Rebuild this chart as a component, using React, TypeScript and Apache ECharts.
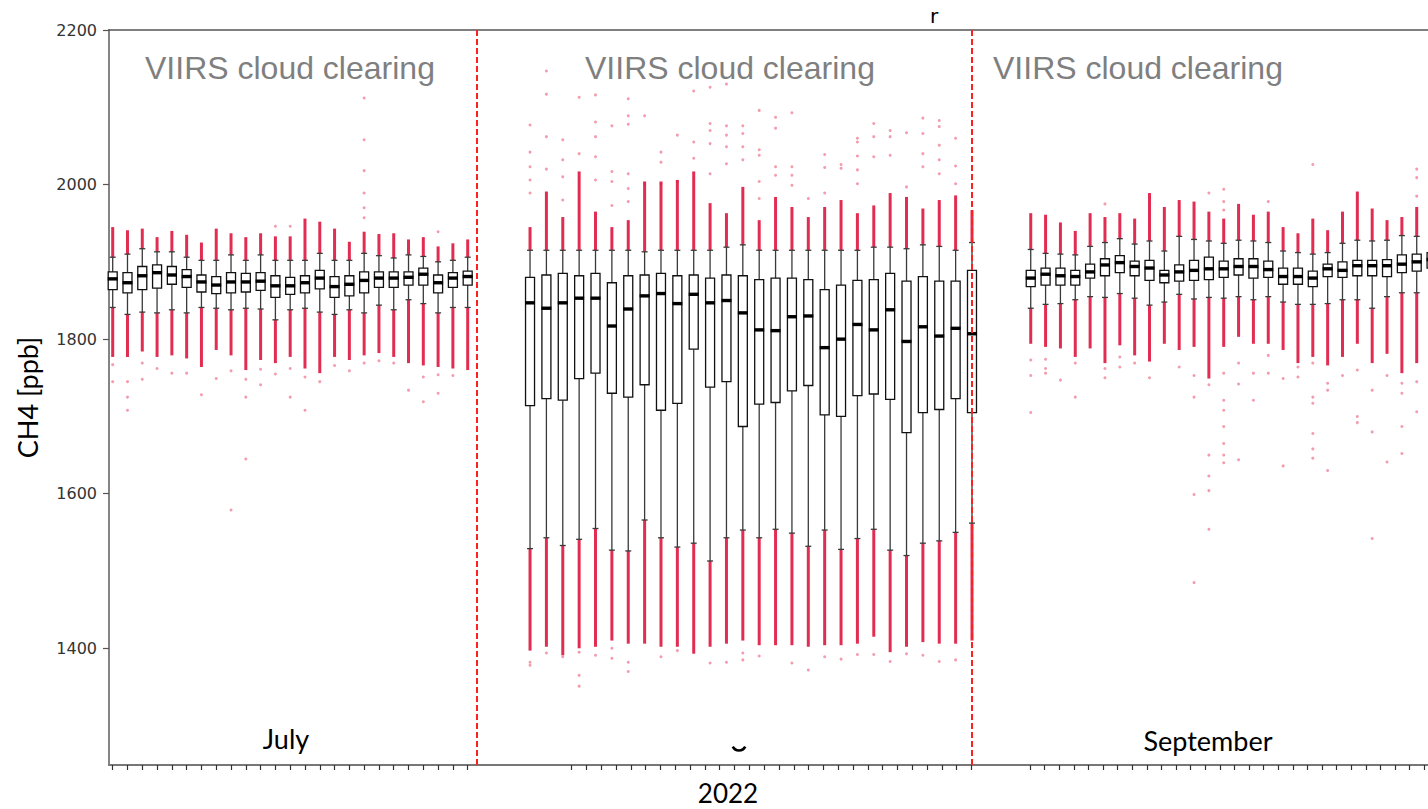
import React, { useEffect, useRef } from "react";
import * as echarts from "echarts";

// ---------- data ----------
const Y_TICKS = [1400, 1600, 1800, 2000, 2200];
const Y_MIN = 1249;
const Y_MAX = 2200;

// one row per day: [redLo, whiskerLo, q1, median, q3, whiskerHi, redHi] (ppb)
const JULY_STATS = [
  [1777, 1841, 1864, 1878, 1887, 1906, 1945],
  [1777, 1832, 1860, 1873, 1886, 1910, 1941],
  [1784, 1835, 1864, 1882, 1894, 1917, 1943],
  [1777, 1834, 1866, 1886, 1896, 1913, 1932],
  [1779, 1838, 1871, 1883, 1894, 1913, 1940],
  [1775, 1834, 1867, 1881, 1890, 1906, 1935],
  [1764, 1841, 1861, 1874, 1883, 1902, 1925],
  [1786, 1840, 1859, 1870, 1881, 1902, 1943],
  [1779, 1838, 1860, 1874, 1886, 1909, 1937],
  [1760, 1840, 1861, 1874, 1885, 1902, 1932],
  [1773, 1839, 1863, 1875, 1886, 1909, 1937],
  [1769, 1825, 1854, 1869, 1882, 1902, 1933],
  [1777, 1838, 1858, 1869, 1880, 1902, 1933],
  [1762, 1840, 1860, 1873, 1882, 1902, 1956],
  [1756, 1835, 1865, 1879, 1889, 1911, 1952],
  [1777, 1832, 1854, 1868, 1881, 1902, 1943],
  [1773, 1838, 1856, 1871, 1882, 1902, 1926],
  [1779, 1834, 1860, 1876, 1887, 1911, 1939],
  [1782, 1844, 1867, 1879, 1887, 1908, 1936],
  [1777, 1838, 1867, 1879, 1887, 1905, 1937],
  [1769, 1851, 1870, 1880, 1887, 1909, 1929],
  [1766, 1846, 1870, 1884, 1892, 1907, 1932],
  [1764, 1834, 1860, 1873, 1883, 1900, 1920],
  [1762, 1841, 1867, 1879, 1886, 1902, 1924],
  [1760, 1841, 1870, 1881, 1888, 1906, 1929],
];

const AUGUST_STATS = [
  [1397, 1529, 1714, 1847, 1880, 1915, 1945],
  [1402, 1543, 1723, 1840, 1883, 1915, 1991],
  [1391, 1533, 1721, 1847, 1885, 1915, 1958],
  [1400, 1541, 1749, 1853, 1882, 1915, 2017],
  [1402, 1555, 1756, 1853, 1885, 1915, 1965],
  [1410, 1527, 1730, 1817, 1873, 1915, 1945],
  [1406, 1526, 1725, 1839, 1882, 1915, 1954],
  [1406, 1566, 1741, 1856, 1883, 1913, 2004],
  [1402, 1543, 1708, 1859, 1885, 1915, 2004],
  [1402, 1531, 1717, 1846, 1882, 1915, 2006],
  [1393, 1536, 1787, 1858, 1883, 1915, 2017],
  [1402, 1513, 1738, 1847, 1879, 1915, 1976],
  [1406, 1543, 1745, 1850, 1883, 1919, 1963],
  [1410, 1553, 1687, 1834, 1882, 1922, 1997],
  [1404, 1543, 1716, 1812, 1877, 1915, 1954],
  [1404, 1554, 1718, 1811, 1879, 1915, 1984],
  [1404, 1549, 1733, 1829, 1879, 1915, 1971],
  [1402, 1532, 1740, 1830, 1877, 1915, 1958],
  [1404, 1553, 1702, 1789, 1864, 1915, 1971],
  [1404, 1528, 1700, 1800, 1870, 1915, 1980],
  [1406, 1542, 1727, 1819, 1876, 1915, 1963],
  [1415, 1554, 1729, 1812, 1877, 1919, 1973],
  [1395, 1527, 1722, 1838, 1885, 1919, 1989],
  [1402, 1520, 1679, 1797, 1875, 1917, 1984],
  [1408, 1536, 1705, 1816, 1881, 1922, 1969],
  [1406, 1539, 1709, 1804, 1875, 1920, 1980],
  [1406, 1550, 1723, 1814, 1875, 1915, 1986],
  [1410, 1562, 1705, 1807, 1889, 1925, 1967],
];

const SEPTEMBER_STATS = [
  [1794, 1840, 1868, 1879, 1889, 1916, 1963],
  [1790, 1845, 1870, 1884, 1892, 1911, 1961],
  [1788, 1846, 1870, 1882, 1892, 1910, 1951],
  [1777, 1851, 1870, 1881, 1889, 1909, 1940],
  [1788, 1855, 1879, 1887, 1897, 1920, 1963],
  [1769, 1854, 1882, 1896, 1904, 1925, 1958],
  [1792, 1859, 1886, 1899, 1908, 1930, 1963],
  [1779, 1853, 1882, 1894, 1901, 1923, 1956],
  [1771, 1844, 1876, 1892, 1902, 1927, 1989],
  [1794, 1848, 1873, 1883, 1889, 1914, 1971],
  [1786, 1858, 1875, 1887, 1896, 1933, 1980],
  [1790, 1852, 1876, 1889, 1902, 1929, 1978],
  [1749, 1854, 1877, 1891, 1906, 1927, 1965],
  [1790, 1853, 1880, 1891, 1901, 1924, 1956],
  [1803, 1855, 1883, 1894, 1904, 1928, 1975],
  [1794, 1851, 1879, 1894, 1904, 1927, 1961],
  [1794, 1855, 1880, 1890, 1901, 1925, 1965],
  [1786, 1848, 1871, 1881, 1892, 1914, 1945],
  [1769, 1845, 1871, 1881, 1892, 1912, 1937],
  [1777, 1845, 1868, 1879, 1888, 1910, 1956],
  [1766, 1846, 1881, 1891, 1897, 1912, 1941],
  [1777, 1851, 1880, 1889, 1900, 1924, 1965],
  [1794, 1851, 1882, 1895, 1902, 1928, 1991],
  [1769, 1840, 1882, 1895, 1902, 1927, 1969],
  [1781, 1855, 1881, 1895, 1903, 1928, 1954],
  [1756, 1860, 1886, 1897, 1909, 1934, 1958],
  [1769, 1860, 1888, 1900, 1910, 1933, 1971],
  [1770, 1862, 1892, 1903, 1912, 1937, 1980],
];

// isolated outliers: [day number within the panel, ppb]
const JULY_OUTLIERS = [
  [1, 1767], [1, 1745], [2, 1745], [2, 1725], [2, 1708], [3, 1769], [3, 1748],
  [4, 1762], [5, 1756], [6, 1756], [7, 1728], [8, 1749], [9, 1759], [9, 1579],
  [10, 1748], [10, 1725], [10, 1645], [11, 1761], [11, 1741], [12, 1755], [12, 1946],
  [13, 1762], [13, 1725], [13, 1946], [14, 1751], [14, 1708], [15, 1745], [16, 1766],
  [17, 1759], [18, 1769], [18, 2112], [18, 2058], [18, 2018], [18, 1989], [18, 1970],
  [18, 1957], [19, 1772], [20, 1769], [21, 1734], [22, 1751], [22, 1719], [23, 1754],
  [23, 1730], [23, 1939], [24, 1753],
];

const AUGUST_OUTLIERS = [
  [1, 2077], [1, 2042], [1, 2023], [1, 2006], [1, 1989], [1, 1382], [1, 1378],
  [2, 2147], [2, 2117], [2, 2062], [2, 2020], [2, 1394],
  [3, 2058], [3, 2032], [3, 2010], [3, 1980], [3, 1389],
  [4, 2113], [4, 2040], [4, 1395], [4, 1365], [4, 1351],
  [5, 2116], [5, 2081], [5, 2062], [5, 2036], [5, 2006], [5, 1391],
  [6, 2076], [6, 2017], [6, 2004], [6, 1973], [6, 1400], [6, 1387],
  [7, 2111], [7, 2089], [7, 2078], [7, 2014], [7, 1995], [7, 1978], [7, 1382], [7, 1370],
  [8, 2089], [8, 2001],
  [9, 2042], [9, 2029], [9, 2001], [9, 1389],
  [10, 2064], [10, 2004], [10, 1397],
  [11, 2121], [11, 2055], [11, 2034],
  [12, 2126], [12, 2079], [12, 2070], [12, 2053], [12, 2014], [12, 1381],
  [13, 2130], [13, 2076], [13, 2064], [13, 2049], [13, 2027], [13, 1382],
  [14, 2076], [14, 2066], [14, 2049], [14, 2032], [14, 1394], [14, 1385],
  [15, 2096], [15, 2045], [15, 2038], [15, 2004], [15, 1982], [15, 1390],
  [16, 2087], [16, 2073], [16, 2023], [16, 2012],
  [17, 2093], [17, 2023], [17, 2012], [17, 1999], [17, 1381],
  [18, 1982], [18, 1372],
  [19, 2039], [19, 2022], [19, 1989], [19, 1389],
  [20, 2026], [20, 2021], [20, 1386],
  [21, 2060], [21, 2055], [21, 2037], [21, 2019], [21, 2001], [21, 1392],
  [22, 2079], [22, 2062], [22, 2036], [22, 1392],
  [23, 2070], [23, 2062], [23, 2038], [23, 1383],
  [24, 2067], [24, 1997], [24, 1393],
  [25, 2086], [25, 2066], [25, 2040], [25, 2023], [25, 1391],
  [26, 2083], [26, 2075], [26, 2051], [26, 2032], [26, 2014], [26, 1383],
  [27, 2060], [27, 2024], [27, 2001], [27, 1385],
];

const SEPTEMBER_OUTLIERS = [
  [1, 1773], [1, 1753], [1, 1705], [2, 1774], [2, 1762], [2, 1756], [3, 1747],
  [4, 1769], [4, 1725], [6, 1975], [6, 1762], [6, 1750], [7, 1777], [7, 1764],
  [8, 1769], [9, 1750], [11, 1764], [12, 1753], [12, 1725], [12, 1599], [12, 1485],
  [13, 1989], [13, 1741], [13, 1650], [13, 1623], [13, 1604], [13, 1554],
  [14, 1994], [14, 1978], [14, 1967], [14, 1756], [14, 1721], [14, 1708], [14, 1687],
  [14, 1665], [14, 1650], [14, 1640], [15, 1769], [15, 1742], [15, 1644],
  [16, 1756], [16, 1721], [17, 1978], [17, 1779], [17, 1756], [18, 1749], [18, 1636],
  [19, 1764], [19, 1751], [20, 2026], [20, 1769], [20, 1725], [20, 1717], [20, 1678],
  [20, 1658], [20, 1646], [21, 1743], [21, 1734], [21, 1630], [22, 1753],
  [23, 1760], [23, 1700], [23, 1692], [24, 1734], [24, 1680], [24, 1542],
  [25, 1753], [25, 1641], [26, 1743], [26, 1730], [26, 1687], [26, 1652],
  [27, 2020], [27, 2009], [27, 1985], [27, 1745], [27, 1706],
];

const MONTH_LABELS = ["July", "September"];
const YEAR_LABEL = "2022";
const PANEL_NOTE = "VIIRS cloud clearing";
const Y_NAME = "CH4 [ppb]";

// ---------- layout (pixels / axis extents) ----------
const TOP = 30;
const PLOT_H = 735;
const JUL_BOX_AXIS = { min: 0.75, max: 25.63 };
const AUG_BOX_AXIS = { min: -2.24, max: 27.97 };
const AUG_TICK_AXIS = { min: -6.39, max: 27.0 };
const SEP_BOX_AXIS = { min: -2.99, max: 27.76 };
const SEP_TICK_AXIS = { min: -4.01, max: 27.26 };

const RED = "rgba(222,16,58,0.88)";
const RED_DOT = "rgba(228,30,70,0.55)";

const range = (a: number, b: number) => {
  const r: number[] = [];
  for (let i = a; i <= b; i++) r.push(i);
  return r;
};

function hiddenY(gridIndex: number) {
  return { type: "value", gridIndex, min: Y_MIN, max: Y_MAX, show: false, splitLine: { show: false } };
}

function tickX(gridIndex: number, ext: { min: number; max: number }, ticks: number[] | null) {
  return {
    type: "value",
    gridIndex,
    min: ext.min,
    max: ext.max,
    position: "bottom",
    axisLine: { show: false },
    splitLine: { show: false },
    axisLabel: { show: false },
    axisTick: ticks
      ? { show: true, length: 5, inside: false, lineStyle: { color: "#333", width: 1.2 }, customValues: ticks }
      : { show: false },
  };
}

function redSeries(stats: number[][], xi: number, yi: number) {
  return {
    type: "custom",
    name: "dense outliers",
    xAxisIndex: xi,
    yAxisIndex: yi,
    silent: true,
    z: 2,
    encode: { x: 0, y: [1, 2, 3, 4] },
    data: stats.map((s, i) => [i + 1, s[0], s[1], s[5], s[6]]),
    renderItem: (params: any, api: any) => {
      const x = api.value(0);
      const lo = api.coord([x, api.value(1)]);
      const wlo = api.coord([x, api.value(2)]);
      const whi = api.coord([x, api.value(3)]);
      const hi = api.coord([x, api.value(4)]);
      return {
        type: "group",
        children: [
          { type: "rect", shape: { x: lo[0] - 1.5, y: wlo[1], width: 3, height: lo[1] - wlo[1] }, style: { fill: RED } },
          { type: "rect", shape: { x: hi[0] - 1.5, y: hi[1], width: 3, height: whi[1] - hi[1] }, style: { fill: RED } },
        ],
      };
    },
  };
}

function outlierSeries(points: number[][], xi: number, yi: number) {
  return {
    type: "scatter",
    name: "outliers",
    xAxisIndex: xi,
    yAxisIndex: yi,
    silent: true,
    z: 2,
    symbol: "circle",
    symbolSize: 3,
    itemStyle: { color: RED_DOT },
    data: points,
  };
}

function boxSeries(stats: number[][], xi: number, yi: number) {
  return {
    type: "custom",
    name: "daily CH4",
    xAxisIndex: xi,
    yAxisIndex: yi,
    silent: true,
    z: 3,
    encode: { x: 0, y: [1, 2, 3, 4, 5] },
    data: stats.map((s, i) => [i + 1, s[1], s[2], s[3], s[4], s[5]]),
    renderItem: (params: any, api: any) => {
      const x = api.value(0);
      const pWlo = api.coord([x, api.value(1)]);
      const pQ1 = api.coord([x, api.value(2)]);
      const pMed = api.coord([x, api.value(3)]);
      const pQ3 = api.coord([x, api.value(4)]);
      const pWhi = api.coord([x, api.value(5)]);
      const cx = pMed[0];
      const hw = 4.5;
      const wStyle = { stroke: "#3a3a3a", lineWidth: 1.3 };
      return {
        type: "group",
        children: [
          { type: "line", shape: { x1: cx, y1: pWhi[1], x2: cx, y2: pQ3[1] }, style: wStyle },
          { type: "line", shape: { x1: cx, y1: pQ1[1], x2: cx, y2: pWlo[1] }, style: wStyle },
          { type: "line", shape: { x1: cx - 3, y1: pWhi[1], x2: cx + 3, y2: pWhi[1] }, style: wStyle },
          { type: "line", shape: { x1: cx - 3, y1: pWlo[1], x2: cx + 3, y2: pWlo[1] }, style: wStyle },
          {
            type: "rect",
            shape: { x: cx - hw, y: pQ3[1], width: 2 * hw, height: pQ1[1] - pQ3[1] },
            style: { fill: "#fff", stroke: "#111", lineWidth: 1.3 },
          },
          { type: "line", shape: { x1: cx - hw - 0.5, y1: pMed[1], x2: cx + hw + 0.5, y2: pMed[1] }, style: { stroke: "#000", lineWidth: 3.4 } },
        ],
      };
    },
  };
}

export default function App() {
  const ref = useRef<HTMLDivElement>(null);

  useEffect(() => {
    if (!ref.current) return;
    const chart = echarts.init(ref.current, null, { renderer: "svg" });

    const noteStyle = { fill: "#7f7f7f", fontSize: 32, fontFamily: "Liberation Sans, Arial, sans-serif" };
    const labelFont = "Lato, 'Open Sans', sans-serif";

    const option: any = {
      animation: false,
      backgroundColor: "#fff",
      grid: [
        { left: 109, top: TOP, width: 368, height: PLOT_H },
        { left: 477, top: TOP, width: 494.5, height: PLOT_H },
        { left: 971.5, top: TOP, width: 456.5, height: PLOT_H },
        { left: 109, top: TOP, right: 0, height: PLOT_H },
      ],
      xAxis: [
        tickX(0, JUL_BOX_AXIS, range(1, 25)),
        tickX(1, AUG_BOX_AXIS, null),
        tickX(1, AUG_TICK_AXIS, range(0, 27)),
        tickX(2, SEP_BOX_AXIS, null),
        tickX(2, SEP_TICK_AXIS, range(0, 27)),
        {
          type: "value", gridIndex: 3, min: 0, max: 1, position: "bottom",
          axisLine: { show: true, lineStyle: { color: "#777", width: 1.8 } },
          axisTick: { show: false }, axisLabel: { show: false }, splitLine: { show: false },
        },
        {
          type: "value", gridIndex: 3, min: 0, max: 1, position: "top",
          axisLine: { show: true, lineStyle: { color: "#555", width: 1.6 } },
          axisTick: { show: false }, axisLabel: { show: false }, splitLine: { show: false },
        },
      ],
      yAxis: [
        hiddenY(0),
        hiddenY(1),
        hiddenY(2),
        {
          type: "value",
          gridIndex: 3,
          min: Y_MIN,
          max: Y_MAX,
          position: "left",
          name: Y_NAME,
          nameLocation: "middle",
          nameRotate: 90,
          nameGap: 68,
          nameTextStyle: { fontSize: 27, fontFamily: labelFont, color: "#000" },
          axisLine: { show: true, lineStyle: { color: "#777", width: 1.8 } },
          axisTick: { show: true, length: 6, lineStyle: { color: "#555", width: 1.2 }, customValues: Y_TICKS },
          axisLabel: {
            show: true, customValues: Y_TICKS, margin: 12, fontSize: 16,
            fontFamily: "DejaVu Sans, sans-serif", color: "#333",
            formatter: (v: number) => String(v),
          },
          splitLine: { show: false },
        },
      ],
      series: [
        redSeries(JULY_STATS, 0, 0),
        redSeries(AUGUST_STATS, 1, 1),
        redSeries(SEPTEMBER_STATS, 3, 2),
        outlierSeries(JULY_OUTLIERS, 0, 0),
        outlierSeries(AUGUST_OUTLIERS, 1, 1),
        outlierSeries(SEPTEMBER_OUTLIERS, 3, 2),
        boxSeries(JULY_STATS, 0, 0),
        boxSeries(AUGUST_STATS, 1, 1),
        boxSeries(SEPTEMBER_STATS, 3, 2),
        {
          type: "line",
          name: "month divider",
          xAxisIndex: 1,
          yAxisIndex: 1,
          data: [],
          z: 6,
          markLine: {
            silent: true,
            symbol: ["none", "none"],
            label: { show: false },
            lineStyle: { color: "#ff1f1f", type: [6, 3], width: 2 },
            data: [{ xAxis: AUG_BOX_AXIS.min }, { xAxis: AUG_BOX_AXIS.max }],
          },
        },
      ],
      graphic: [
        { type: "text", left: 145, top: 52, style: { text: PANEL_NOTE, ...noteStyle } },
        { type: "text", left: 585, top: 52, style: { text: PANEL_NOTE, ...noteStyle } },
        { type: "text", left: 993, top: 52, style: { text: PANEL_NOTE, ...noteStyle } },
        {
          type: "text", x: 286, y: 738,
          style: { text: MONTH_LABELS[0], fontSize: 27, fontFamily: labelFont, fill: "#000", align: "center", verticalAlign: "middle" },
        },
        {
          type: "text", x: 1208, y: 740,
          style: { text: MONTH_LABELS[1], fontSize: 27, fontFamily: labelFont, fill: "#000", align: "center", verticalAlign: "middle" },
        },
        {
          type: "text", x: 728, y: 793,
          style: { text: YEAR_LABEL, fontSize: 26, fontFamily: labelFont, fill: "#000", align: "center", verticalAlign: "middle" },
        },
        {
          type: "text", x: 934, y: 16,
          style: { text: "r", fontSize: 20, fontFamily: "DejaVu Sans, sans-serif", fill: "#000", align: "center", verticalAlign: "middle" },
        },
        {
          type: "arc",
          shape: { cx: 739, cy: 743.5, r: 7, startAngle: 0.15 * Math.PI, endAngle: 0.85 * Math.PI },
          style: { stroke: "#000", lineWidth: 2.6, fill: "none" },
        },
      ],
    };

    chart.setOption(option);
    return () => chart.dispose();
  }, []);

  return (
    <div
      ref={ref}
      style={{ position: "fixed", left: 0, top: 0, width: 1428, height: 809, background: "#fff" }}
    />
  );
}
